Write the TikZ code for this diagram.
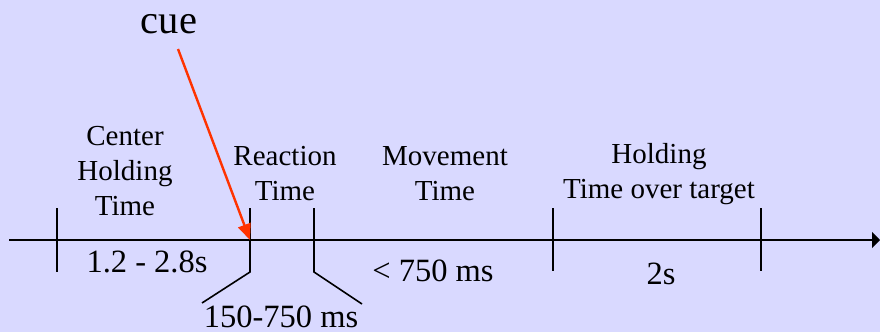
\documentclass[tikz,border=0pt]{standalone}
\usepackage{fontspec}
\setmainfont{Liberation Serif}
\usetikzlibrary{arrows.meta}
\definecolor{bgblue}{RGB}{217,217,255}
\definecolor{cuered}{RGB}{255,51,0}
\begin{document}
\begin{tikzpicture}[x=1pt,y=-1pt,
  axisline/.style={line width=2.6pt,-{Triangle[length=8pt,width=16pt]}},
  tickline/.style={line width=1.6pt},
  cuearrow/.style={line width=2.4pt,color=cuered,-{Triangle[length=16pt,width=13pt]}},
  lbl/.style={font=\fontsize{29}{35}\selectfont,align=center,inner sep=0pt,anchor=base},
  num/.style={font=\fontsize{32.5}{36}\selectfont,anchor=base,inner sep=0pt},
  cuetext/.style={font=\fontsize{40.5}{44}\selectfont,anchor=base,inner sep=0pt}]
  % background
  \fill[bgblue] (0,0) rectangle (880,332);
  \useasboundingbox (0,0) rectangle (880,332);

  % time axis
  \coordinate (axstart) at (9,240);
  \coordinate (axend) at (880,240);
  \draw[axisline] (axstart) -- (axend);

  % tick marks
  \coordinate (t1top) at (57,208);   \coordinate (t1bot) at (57,272);
  \coordinate (t2top) at (250,208);  \coordinate (t2bot) at (250,272);
  \coordinate (t2leg) at (202,303);  \coordinate (t2mid) at (250,240);
  \coordinate (t3top) at (314,208);  \coordinate (t3bot) at (314,272);
  \coordinate (t3leg) at (362,304);
  \coordinate (t4top) at (553,208);  \coordinate (t4bot) at (553,271);
  \coordinate (t5top) at (761,208);  \coordinate (t5bot) at (761,271);
  \draw[tickline] (t1top) -- (t1bot);
  \draw[tickline] (t2top) -- (t2bot) -- (t2leg);
  \draw[tickline] (t3top) -- (t3bot) -- (t3leg);
  \draw[tickline] (t4top) -- (t4bot);
  \draw[tickline] (t5top) -- (t5bot);

  % phase labels above the axis (anchored on the last line's baseline)
  \node[lbl] (center) at (125,215) {Center\\Holding\\Time};
  \node[lbl] (reaction) at (285,200) {Reaction\\Time};
  \node[lbl] (movement) at (445,200) {Movement\\Time};
  \node[lbl] (holding) at (659,198) {Holding\\Time over target};

  % durations below the axis
  \node[num] (d1) at (147,272) {1.2 - 2.8s};
  \node[num] (d2) at (281,327) {150-750 ms};
  \node[num] (d3) at (433,281) {< 750 ms};
  \node[num] (d4) at (661,284) {2s};

  % cue
  \node[cuetext] (cue) at (169,33) {cue};
  \coordinate (cuestart) at (178,49);
  \draw[cuearrow] (cuestart) -- (t2mid);
\end{tikzpicture}
\end{document}
